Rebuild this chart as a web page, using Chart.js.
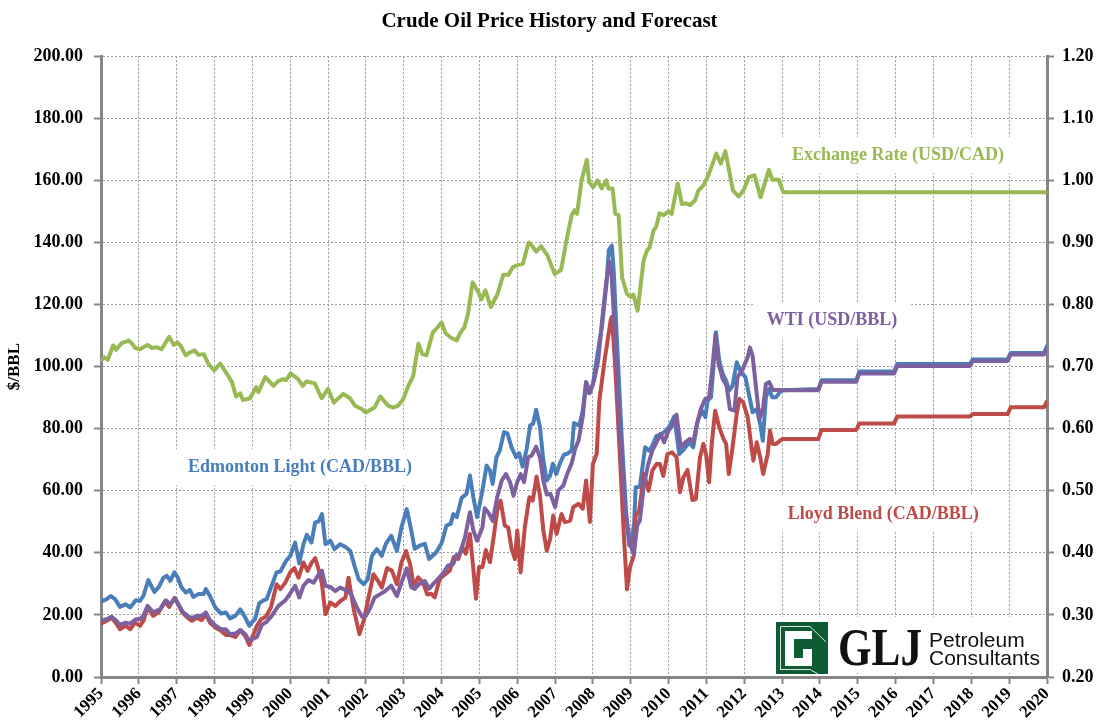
<!DOCTYPE html>
<html>
<head>
<meta charset="utf-8">
<title>Crude Oil Price History and Forecast</title>
<script src="https://cdn.jsdelivr.net/npm/chart.js@4.4.1/dist/chart.umd.min.js"></script>
<style>
  html, body { margin: 0; padding: 0; background: #fff; }
  #chart { display: block; }
</style>
</head>
<body>
<canvas id="chart" width="1099" height="726"></canvas>
<script>
// tick labels
const yearTicks = [1995, 1996, 1997, 1998, 1999, 2000, 2001, 2002, 2003, 2004, 2005, 2006, 2007,
  2008, 2009, 2010, 2011, 2012, 2013, 2014, 2015, 2016, 2017, 2018, 2019, 2020];
const priceTicks = [0, 20, 40, 60, 80, 100, 120, 140, 160, 180, 200];
const rateTicks = [0.2, 0.3, 0.4, 0.5, 0.6, 0.7, 0.8, 0.9, 1.0, 1.1, 1.2];

// Edmonton Light, CAD/BBL (history + forecast)
const edmontonDates = [1995.00, 1995.15, 1995.26, 1995.37, 1995.50, 1995.65, 1995.77, 1995.92,
  1996.03, 1996.12, 1996.25, 1996.41, 1996.53, 1996.65, 1996.74, 1996.83, 1996.94,
  1997.03, 1997.12, 1997.24, 1997.35, 1997.44, 1997.57, 1997.71, 1997.77, 1997.88,
  1998.02, 1998.17, 1998.30, 1998.41, 1998.55, 1998.68, 1998.79, 1998.92,
  1999.00, 1999.07, 1999.18, 1999.29, 1999.38, 1999.49, 1999.64, 1999.74, 1999.89,
  2000.00, 2000.13, 2000.24, 2000.35, 2000.44, 2000.56, 2000.66, 2000.75, 2000.84, 2000.93,
  2001.06, 2001.17, 2001.32, 2001.46, 2001.59, 2001.70, 2001.81, 2001.94,
  2002.05, 2002.16, 2002.29, 2002.42, 2002.53, 2002.67, 2002.82, 2002.94,
  2003.08, 2003.20, 2003.29, 2003.42, 2003.56, 2003.67, 2003.86,
  2004.00, 2004.13, 2004.24, 2004.31, 2004.40, 2004.53, 2004.66, 2004.75, 2004.84, 2004.94,
  2005.08, 2005.19, 2005.28, 2005.35, 2005.45, 2005.54, 2005.65, 2005.74, 2005.85, 2005.97,
  2006.05, 2006.14, 2006.25, 2006.34, 2006.42, 2006.50, 2006.60, 2006.69, 2006.78, 2006.87, 2006.94,
  2007.03, 2007.13, 2007.24, 2007.32, 2007.44, 2007.50, 2007.64, 2007.73, 2007.82, 2007.90,
  2008.00, 2008.12, 2008.25, 2008.36, 2008.42, 2008.50, 2008.55, 2008.63, 2008.76, 2008.89, 2008.96,
  2009.02, 2009.09, 2009.13, 2009.24, 2009.38, 2009.49, 2009.57, 2009.68, 2009.79, 2009.93,
  2010.01, 2010.15, 2010.28, 2010.41, 2010.54, 2010.65, 2010.77, 2010.88, 2010.97,
  2011.03, 2011.12, 2011.18, 2011.25, 2011.34, 2011.43, 2011.52, 2011.60, 2011.69, 2011.80, 2011.91,
  2012.03, 2012.12, 2012.22, 2012.33, 2012.42, 2012.49, 2012.57, 2012.65, 2012.74, 2012.84, 2012.97,
  2013.00, 2013.96, 2014.04, 2014.96, 2015.04, 2015.96, 2016.04, 2017.96, 2018.04, 2018.96,
  2019.04, 2019.92, 2020.00];
const edmontonPrices = [24.3, 25.1, 26.1, 25.1, 22.6, 23.4, 22.4, 24.7,
  24.5, 26.1, 31.2, 27.4, 29.0, 32.0, 32.6, 31.0, 33.7,
  32.0, 29.0, 27.2, 28.0, 25.8, 26.7, 26.7, 28.3, 26.1,
  22.4, 20.4, 20.8, 18.9, 19.7, 21.8, 19.7, 16.5,
  17.8, 18.6, 23.7, 24.7, 25.1, 28.8, 33.7, 34.0, 37.4,
  39.0, 43.3, 36.6, 42.8, 45.8, 43.3, 49.8, 50.1, 52.5, 42.8,
  43.9, 41.2, 42.8, 41.9, 40.6, 35.8, 31.5, 29.9,
  31.5, 39.0, 41.2, 39.0, 43.0, 45.5, 40.6, 48.2,
  54.1, 47.2, 41.3, 42.3, 42.9, 38.0, 40.2,
  43.1, 48.8, 49.3, 52.5, 51.5, 57.7, 59.0, 64.9, 57.9, 51.5,
  60.1, 68.1, 66.5, 62.2, 70.8, 73.0, 78.9, 78.5, 74.0, 70.8,
  72.1, 67.8, 73.5, 81.0, 81.6, 86.1, 80.5, 69.7, 63.3, 64.9, 68.7,
  65.4, 68.9, 71.7, 71.9, 73.0, 81.8, 81.0, 85.8, 95.0, 91.4,
  94.4, 104.0, 114.0, 127.0, 137.5, 139.0, 131.0, 109.6, 77.3, 50.4, 42.4,
  43.4, 49.8, 61.1, 61.2, 74.0, 72.9, 74.5, 77.7, 78.1, 79.4,
  80.5, 84.0, 71.8, 73.4, 75.6, 74.0, 82.6, 85.8, 83.7,
  89.0, 90.1, 99.2, 111.1, 101.9, 97.6, 95.5, 92.3, 93.9, 101.4, 98.2,
  96.6, 91.2, 85.3, 86.3, 81.5, 76.1, 90.1, 92.8, 90.1, 90.1, 92.3,
  92.4, 92.8, 95.6, 95.6, 98.4, 98.4, 100.8, 100.8, 102.3, 102.3,
  104.4, 104.4, 106.6];

// WTI, USD/BBL
const wtiDates = [1995.00, 1995.15, 1995.28, 1995.39, 1995.50, 1995.65, 1995.77, 1995.92,
  1996.03, 1996.12, 1996.23, 1996.38, 1996.56, 1996.71, 1996.83, 1996.96,
  1997.05, 1997.15, 1997.29, 1997.40, 1997.53, 1997.66, 1997.77, 1997.88,
  1998.03, 1998.17, 1998.30, 1998.41, 1998.55, 1998.68, 1998.81, 1998.92,
  1999.00, 1999.12, 1999.25, 1999.38, 1999.51, 1999.69, 1999.87,
  2000.00, 2000.13, 2000.24, 2000.35, 2000.48, 2000.62, 2000.73, 2000.84, 2000.93,
  2001.06, 2001.19, 2001.32, 2001.47, 2001.61, 2001.76, 2001.90,
  2002.00, 2002.12, 2002.23, 2002.38, 2002.51, 2002.67, 2002.82, 2002.94,
  2003.08, 2003.20, 2003.29, 2003.42, 2003.56, 2003.67, 2003.78, 2003.91,
  2004.04, 2004.17, 2004.31, 2004.38, 2004.48, 2004.62, 2004.75, 2004.84, 2004.94,
  2005.08, 2005.14, 2005.26, 2005.35, 2005.47, 2005.59, 2005.70, 2005.81, 2005.90,
  2006.00, 2006.09, 2006.18, 2006.29, 2006.38, 2006.50, 2006.60, 2006.69, 2006.78, 2006.88,
  2007.00, 2007.09, 2007.22, 2007.32, 2007.44, 2007.53, 2007.62, 2007.73, 2007.82, 2007.92,
  2008.03, 2008.14, 2008.27, 2008.36, 2008.43, 2008.49, 2008.58, 2008.71, 2008.85, 2008.98,
  2009.08, 2009.17, 2009.24, 2009.35, 2009.46, 2009.57, 2009.68, 2009.79, 2009.88,
  2010.00, 2010.10, 2010.21, 2010.32, 2010.44, 2010.56, 2010.65, 2010.74, 2010.85, 2010.97,
  2011.07, 2011.16, 2011.24, 2011.32, 2011.43, 2011.53, 2011.62, 2011.74, 2011.82, 2011.96,
  2012.09, 2012.15, 2012.22, 2012.31, 2012.40, 2012.50, 2012.57, 2012.66, 2012.75, 2012.93,
  2013.00, 2013.96, 2014.04, 2014.96, 2015.04, 2015.96, 2016.04, 2017.96, 2018.04, 2018.96,
  2019.04, 2019.92, 2020.00];
const wtiPrices = [18.1, 18.6, 19.4, 18.3, 16.8, 17.5, 17.2, 18.6,
  18.6, 19.7, 22.9, 20.8, 21.8, 24.7, 23.4, 25.4,
  23.4, 21.1, 19.7, 18.9, 19.7, 19.7, 20.8, 18.3,
  16.5, 15.4, 15.4, 13.8, 14.0, 15.1, 13.8, 11.6,
  12.2, 12.9, 16.8, 17.8, 19.7, 22.9, 24.7,
  26.9, 29.4, 25.6, 29.4, 31.2, 30.4, 32.6, 34.2, 29.4,
  29.0, 27.7, 28.8, 28.0, 26.7, 22.4, 19.4,
  19.7, 22.4, 25.6, 26.7, 27.7, 29.4, 26.1, 30.4,
  35.0, 28.9, 28.4, 30.0, 30.9, 28.4, 30.0, 31.6,
  33.4, 35.9, 36.4, 39.1, 39.7, 45.0, 53.1, 47.2, 43.9,
  48.2, 54.4, 52.5, 50.3, 57.9, 63.3, 65.4, 62.8, 58.4,
  62.8, 65.4, 62.8, 70.8, 71.3, 74.2, 70.8, 63.3, 58.8, 59.0,
  54.7, 60.1, 61.7, 65.4, 68.9, 73.5, 76.2, 83.7, 95.0, 91.5,
  95.5, 102.0, 118.2, 127.8, 133.8, 130.0, 111.7, 80.5, 54.7, 42.9,
  39.5, 48.8, 50.4, 62.0, 68.5, 72.9, 75.6, 78.3, 75.6,
  79.4, 81.0, 84.5, 74.0, 75.6, 76.7, 75.6, 81.0, 86.3, 89.6,
  90.1, 99.8, 110.3, 100.9, 96.0, 93.9, 86.3, 85.8, 96.6, 99.2,
  103.0, 106.2, 103.5, 93.3, 83.1, 86.9, 94.4, 95.0, 92.5, 92.5,
  92.4, 92.4, 95.1, 95.1, 97.8, 97.8, 100.2, 100.2, 101.8, 101.8,
  103.9, 103.9, 105.8];

// Lloyd Blend, CAD/BBL
const lloydDates = [1995.00, 1995.15, 1995.28, 1995.39, 1995.50, 1995.65, 1995.77, 1995.90,
  1996.03, 1996.12, 1996.23, 1996.38, 1996.52, 1996.69, 1996.80, 1996.94,
  1997.00, 1997.15, 1997.29, 1997.40, 1997.53, 1997.66, 1997.77, 1997.88,
  1998.03, 1998.15, 1998.30, 1998.41, 1998.55, 1998.68, 1998.81, 1998.92,
  1999.00, 1999.12, 1999.23, 1999.36, 1999.49, 1999.64, 1999.74, 1999.87,
  2000.00, 2000.11, 2000.22, 2000.35, 2000.46, 2000.57, 2000.66, 2000.75, 2000.84, 2000.93,
  2001.06, 2001.19, 2001.35, 2001.46, 2001.54, 2001.68, 2001.83, 2001.94,
  2002.07, 2002.20, 2002.32, 2002.42, 2002.56, 2002.69, 2002.82, 2002.94,
  2003.06, 2003.17, 2003.27, 2003.38, 2003.51, 2003.62, 2003.73, 2003.82, 2003.95,
  2004.09, 2004.22, 2004.32, 2004.44, 2004.55, 2004.64, 2004.75, 2004.84, 2004.91, 2004.99,
  2005.08, 2005.17, 2005.28, 2005.37, 2005.47, 2005.56, 2005.67, 2005.76, 2005.85, 2005.94,
  2006.00, 2006.09, 2006.20, 2006.32, 2006.41, 2006.51, 2006.60, 2006.69, 2006.78, 2006.87, 2006.95,
  2007.04, 2007.17, 2007.26, 2007.40, 2007.48, 2007.62, 2007.73, 2007.82, 2007.92,
  2008.00, 2008.10, 2008.17, 2008.32, 2008.47, 2008.50, 2008.58, 2008.71, 2008.82, 2008.90, 2008.98,
  2009.08, 2009.13, 2009.22, 2009.35, 2009.47, 2009.57, 2009.68, 2009.77, 2009.86, 2009.97,
  2010.09, 2010.21, 2010.30, 2010.39, 2010.50, 2010.63, 2010.72, 2010.83, 2010.92, 2010.99,
  2011.07, 2011.14, 2011.23, 2011.34, 2011.45, 2011.52, 2011.59, 2011.69, 2011.80, 2011.87, 2011.97,
  2012.09, 2012.18, 2012.24, 2012.33, 2012.42, 2012.50, 2012.62, 2012.68, 2012.75, 2012.84,
  2013.00, 2013.96, 2014.04, 2014.96, 2015.04, 2015.96, 2016.04, 2017.96, 2018.04, 2018.96,
  2019.04, 2019.92, 2020.00];
const lloydPrices = [17.2, 18.1, 19.1, 17.5, 15.4, 16.5, 15.4, 17.5,
  16.5, 18.1, 22.4, 19.7, 20.8, 24.3, 22.6, 25.4,
  24.3, 20.8, 19.1, 18.1, 19.1, 18.3, 20.2, 17.5,
  15.9, 15.1, 13.5, 13.5, 12.9, 15.1, 13.2, 10.3,
  12.9, 16.5, 18.6, 19.4, 22.4, 29.9, 28.3, 30.4,
  33.7, 35.1, 32.0, 36.9, 34.2, 36.9, 38.3, 34.7, 29.9, 20.2,
  24.0, 22.9, 24.7, 25.6, 32.0, 21.8, 13.8, 18.1,
  25.6, 33.1, 31.0, 28.8, 35.1, 34.2, 29.9, 36.9,
  40.6, 36.3, 28.8, 32.1, 30.5, 26.6, 26.8, 25.7, 31.6,
  33.0, 34.3, 38.6, 38.0, 41.8, 39.7, 46.1, 34.8, 25.2, 35.4,
  35.4, 40.9, 37.0, 44.5, 53.6, 56.8, 48.8, 48.2, 41.3, 38.0,
  47.2, 33.7, 48.2, 57.9, 56.8, 64.6, 58.5, 47.2, 40.7, 44.5, 52.0,
  46.1, 52.5, 49.9, 50.4, 54.7, 55.8, 54.2, 63.3, 49.9,
  68.7, 71.9, 89.1, 103.0, 115.0, 116.0, 102.0, 71.9, 45.1, 28.3, 35.4,
  39.1, 52.0, 53.5, 65.4, 60.0, 66.5, 68.6, 68.6, 64.8, 71.8,
  72.4, 70.8, 59.5, 64.3, 66.7, 57.0, 57.3, 70.8, 75.1, 71.8,
  62.7, 75.1, 85.8, 80.4, 76.7, 75.1, 65.4, 74.0, 84.7, 89.6, 88.5,
  83.7, 75.1, 69.7, 75.6, 70.8, 65.4, 71.8, 79.4, 75.1, 75.1,
  76.7, 76.7, 79.6, 79.6, 81.7, 81.7, 83.9, 83.9, 84.7, 84.7,
  86.9, 86.9, 88.8];

// Exchange rate, USD/CAD (right axis)
const fxDates = [1995.00, 1995.09, 1995.18, 1995.32, 1995.40, 1995.55, 1995.73, 1995.82, 1995.90,
  1996.03, 1996.23, 1996.35, 1996.48, 1996.60, 1996.80, 1996.92,
  1997.02, 1997.10, 1997.24, 1997.35, 1997.48, 1997.57, 1997.72, 1997.83, 1997.99,
  1998.15, 1998.33, 1998.46, 1998.57, 1998.68, 1998.75, 1998.94,
  1999.10, 1999.16, 1999.34, 1999.42, 1999.56, 1999.69, 1999.82, 1999.89,
  2000.01, 2000.21, 2000.33, 2000.43, 2000.65, 2000.83,
  2001.00, 2001.15, 2001.40, 2001.58, 2001.71, 2001.88,
  2002.00, 2002.23, 2002.38, 2002.59, 2002.72, 2002.85, 2002.99,
  2003.12, 2003.25, 2003.39, 2003.49, 2003.60, 2003.77, 2003.88,
  2004.00, 2004.10, 2004.24, 2004.40, 2004.50, 2004.60, 2004.70, 2004.82, 2004.97,
  2005.05, 2005.16, 2005.30, 2005.48, 2005.63, 2005.77, 2005.88, 2005.99,
  2006.15, 2006.30, 2006.40, 2006.50, 2006.63, 2006.80, 2006.99,
  2007.16, 2007.30, 2007.44, 2007.52, 2007.58, 2007.70, 2007.84, 2007.90,
  2008.01, 2008.12, 2008.23, 2008.35, 2008.41, 2008.52, 2008.59, 2008.68, 2008.77, 2008.90,
  2009.00, 2009.07, 2009.18, 2009.34, 2009.43, 2009.50, 2009.60, 2009.67, 2009.76, 2009.87,
  2010.00, 2010.08, 2010.24, 2010.35, 2010.46, 2010.57, 2010.70, 2010.79, 2010.92,
  2011.05, 2011.26, 2011.38, 2011.50, 2011.70, 2011.85, 2011.98,
  2012.12, 2012.27, 2012.43, 2012.65, 2012.74, 2012.91, 2013.03, 2020.00];
const fxRates = [0.710, 0.715, 0.711, 0.734, 0.727, 0.738, 0.742, 0.737, 0.730,
  0.728, 0.735, 0.730, 0.731, 0.728, 0.748, 0.735,
  0.739, 0.734, 0.718, 0.723, 0.726, 0.719, 0.720, 0.705, 0.694,
  0.705, 0.688, 0.675, 0.652, 0.657, 0.646, 0.649,
  0.667, 0.659, 0.683, 0.678, 0.669, 0.677, 0.680, 0.678,
  0.689, 0.680, 0.669, 0.676, 0.673, 0.649,
  0.664, 0.642, 0.656, 0.649, 0.637, 0.632,
  0.626, 0.634, 0.652, 0.637, 0.634, 0.637, 0.648,
  0.669, 0.685, 0.737, 0.720, 0.718, 0.755, 0.762,
  0.771, 0.754, 0.747, 0.742, 0.755, 0.763, 0.785, 0.836, 0.820,
  0.808, 0.823, 0.796, 0.817, 0.848, 0.848, 0.860, 0.863,
  0.866, 0.900, 0.894, 0.885, 0.894, 0.879, 0.849,
  0.856, 0.903, 0.944, 0.952, 0.946, 1.000, 1.033, 0.997,
  0.989, 1.000, 0.987, 1.000, 0.987, 0.987, 0.946, 0.944, 0.844, 0.817,
  0.812, 0.816, 0.790, 0.871, 0.887, 0.892, 0.919, 0.925, 0.947, 0.944,
  0.950, 0.946, 0.995, 0.962, 0.963, 0.960, 0.968, 0.984, 0.992,
  1.008, 1.043, 1.027, 1.047, 0.984, 0.974, 0.984,
  1.005, 1.008, 0.973, 1.017, 1.001, 1.001, 0.981, 0.981];

const SERIF = "'Liberation Serif', 'DejaVu Serif', serif";
const BLUE = '#4A7EBB', RED = '#BE4B48', PURPLE = '#7D60A0', GREEN = '#98B954';
const AXIS = '#868686', GRID = '#9a9a9a';

function points(dates, vals) {
  return dates.map((d, i) => ({ x: d, y: vals[i] }));
}

// text labels on the plot, anchored in data units
const seriesLabels = [
  { text: 'Exchange Rate (USD/CAD)', year: 2016.06, price: 168.1, color: GREEN },
  { text: 'WTI (USD/BBL)', year: 2014.32, price: 115.0, color: PURPLE },
  { text: 'Edmonton Light (CAD/BBL)', year: 2000.26, price: 67.6, color: BLUE },
  { text: 'Lloyd Blend (CAD/BBL)', year: 2015.67, price: 52.5, color: RED }
];

function drawLogo(ctx, area) {
  const bx = area.right - 272, by = area.bottom - 60;
  ctx.fillStyle = '#fff';
  ctx.fillRect(bx, by, 270, 56);

  // green square with white G mark
  const sx = bx + 1, sy = by + 5, s = 52;
  ctx.fillStyle = '#0E5B36';
  ctx.fillRect(sx, sy, s, s);
  ctx.strokeStyle = 'rgba(255,255,255,0.85)';
  ctx.lineWidth = 1;
  ctx.beginPath();
  ctx.moveTo(sx + 4.5, sy + s - 4); ctx.lineTo(sx + 4.5, sy + 4.5); ctx.lineTo(sx + 34, sy + 4.5);
  ctx.lineTo(sx + s - 2, sy + 20);
  ctx.moveTo(sx + 4.5, sy + s - 4.5); ctx.lineTo(sx + 34, sy + s - 4.5); ctx.lineTo(sx + 42, sy + s);
  ctx.stroke();
  ctx.fillStyle = '#fff';
  ctx.beginPath();
  ctx.moveTo(sx + 9, sy + 9); ctx.lineTo(sx + 36, sy + 9); ctx.lineTo(sx + 36, sy + 17);
  ctx.lineTo(sx + 18, sy + 17); ctx.lineTo(sx + 18, sy + 36); ctx.lineTo(sx + 27, sy + 36);
  ctx.lineTo(sx + 27, sy + 27); ctx.lineTo(sx + 36, sy + 27); ctx.lineTo(sx + 36, sy + 44);
  ctx.lineTo(sx + 9, sy + 44); ctx.closePath();
  ctx.fill();

  // GLJ wordmark
  ctx.fillStyle = '#111';
  ctx.textAlign = 'left';
  ctx.textBaseline = 'alphabetic';
  ctx.font = 'bold 52px ' + SERIF;
  const w = ctx.measureText('GLJ').width;
  ctx.save();
  ctx.translate(bx + 63, by + 48);
  ctx.scale(84 / w, 1);
  ctx.fillText('GLJ', 0, 0);
  ctx.restore();
  ctx.font = '21px "Liberation Sans", Arial, sans-serif';
  ctx.fillText('Petroleum', bx + 154, by + 30);
  ctx.fillText('Consultants', bx + 154, by + 48);
}

const overlays = {
  id: 'overlays',
  beforeDatasetsDraw(chart) {
    const { ctx, chartArea, scales } = chart;
    ctx.save();
    ctx.font = 'bold 18px ' + SERIF;
    ctx.textAlign = 'center';
    ctx.textBaseline = 'middle';
    seriesLabels.forEach(l => {
      const px = scales.x.getPixelForValue(l.year);
      const py = scales.y.getPixelForValue(l.price);
      const tw = ctx.measureText(l.text).width;
      ctx.fillStyle = '#fff';
      ctx.fillRect(px - tw / 2 - 14, py - 18, tw + 28, 36);
      ctx.fillStyle = l.color;
      ctx.fillText(l.text, px, py);
    });
    drawLogo(ctx, chartArea);
    ctx.restore();
  }
};

function line(label, data, color, axis) {
  return {
    label, data, yAxisID: axis,
    borderColor: color, backgroundColor: color,
    borderWidth: 4, pointRadius: 0, tension: 0,
    borderCapStyle: 'round', borderJoinStyle: 'round', fill: false
  };
}

const tickFont = { family: SERIF, size: 18, weight: 'bold' };

new Chart(document.getElementById('chart'), {
  type: 'line',
  data: {
    datasets: [
      line('WTI (USD/BBL)', points(wtiDates, wtiPrices), PURPLE, 'y'),
      line('Lloyd Blend (CAD/BBL)', points(lloydDates, lloydPrices), RED, 'y'),
      line('Edmonton Light (CAD/BBL)', points(edmontonDates, edmontonPrices), BLUE, 'y'),
      line('Exchange Rate (USD/CAD)', points(fxDates, fxRates), GREEN, 'y1')
    ]
  },
  options: {
    responsive: false,
    animation: false,
    devicePixelRatio: 1,
    parsing: false,
    layout: { padding: 0 },
    plugins: {
      legend: { display: false },
      tooltip: { enabled: false },
      title: {
        display: true,
        text: 'Crude Oil Price History and Forecast',
        color: '#000',
        font: { family: SERIF, size: 21, weight: 'bold' },
        padding: { top: 9, bottom: 22 }
      }
    },
    scales: {
      x: {
        type: 'linear', min: 1995, max: 2020,
        afterBuildTicks: s => { s.ticks = yearTicks.map(v => ({ value: v })); },
        afterFit: s => { s.height = 49; },
        ticks: {
          autoSkip: false, maxRotation: 45, minRotation: 45, padding: 0,
          color: '#000', font: { family: SERIF, size: 17, weight: 'bold' },
          callback: v => String(v)
        },
        grid: { color: GRID, lineWidth: 1, tickLength: 7, tickColor: AXIS, tickWidth: 2 },
        border: { display: true, color: AXIS, width: 3, dash: [2, 2] }
      },
      y: {
        position: 'left', min: 0, max: 200,
        afterBuildTicks: s => { s.ticks = priceTicks.map(v => ({ value: v })); },
        afterFit: s => { s.width = 101; },
        ticks: { padding: 11, color: '#000', font: tickFont, callback: v => v.toFixed(2) },
        title: { display: true, text: '$/BBL', color: '#000', font: { family: SERIF, size: 17, weight: 'bold' }, padding: { top: 4 } },
        grid: { color: GRID, lineWidth: 1, tickLength: 7, tickColor: AXIS, tickWidth: 2 },
        border: { display: true, color: AXIS, width: 3, dash: [2, 2] }
      },
      y1: {
        position: 'right', min: 0.2, max: 1.2,
        afterBuildTicks: s => { s.ticks = rateTicks.map(v => ({ value: v })); },
        afterFit: s => { s.width = 52; },
        ticks: { padding: 8, color: '#000', font: tickFont, callback: v => v.toFixed(2) },
        grid: { drawOnChartArea: false, tickLength: 7, tickColor: AXIS, tickWidth: 2 },
        border: { display: true, color: AXIS, width: 3 }
      }
    }
  },
  plugins: [overlays]
});
</script>
</body>
</html>
